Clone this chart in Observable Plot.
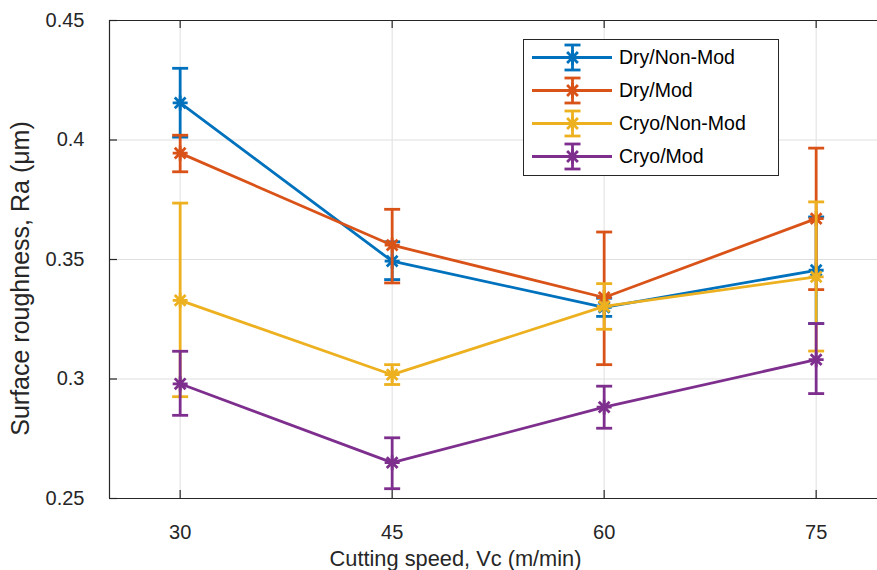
<!DOCTYPE html>
<html><head><meta charset="utf-8">
<script src="https://cdn.jsdelivr.net/npm/d3@7"></script>
<script src="https://cdn.jsdelivr.net/npm/@observablehq/plot@0.6"></script>
<style>
body{margin:0;background:#fff;overflow:hidden;}
#wrap{position:relative;width:877px;height:570px;}
#legend{position:absolute;left:523px;top:39px;width:256px;height:137px;border:1px solid #262626;background:#fff;box-sizing:border-box;font-family:"Liberation Sans",Arial,sans-serif;font-size:19.5px;color:#000;}
#legend .row{position:absolute;left:0;height:33px;display:flex;align-items:center;white-space:nowrap;}
#legend svg{display:block;}
</style></head>
<body><div id="wrap"><div id="chart"></div><div id="legend"></div></div>
<script>
// ---- data ----
const speeds = [30, 45, 60, 75];
const yTicks = [0.25, 0.3, 0.35, 0.4, 0.45];
const seriesNames = ["Dry/Non-Mod", "Dry/Mod", "Cryo/Non-Mod", "Cryo/Mod"];
const seriesColors = ["#0072BD", "#D95319", "#EDB120", "#7E2F8E"];

const dryNonMod     = [0.4155, 0.3493, 0.3300, 0.3455];
const dryNonModLow  = [0.4012, 0.3416, 0.3262, 0.3232];
const dryNonModHigh = [0.4300, 0.3574, 0.3338, 0.3678];

const dryMod     = [0.3945, 0.3560, 0.3341, 0.3671];
const dryModLow  = [0.3867, 0.3402, 0.3060, 0.3374];
const dryModHigh = [0.4020, 0.3710, 0.3615, 0.3966];

const cryoNonMod     = [0.3329, 0.3018, 0.3304, 0.3427];
const cryoNonModLow  = [0.2926, 0.2977, 0.3208, 0.3117];
const cryoNonModHigh = [0.3736, 0.3060, 0.3399, 0.3741];

const cryoMod     = [0.2980, 0.2650, 0.2882, 0.3081];
const cryoModLow  = [0.2848, 0.2541, 0.2794, 0.2939];
const cryoModHigh = [0.3116, 0.2754, 0.2970, 0.3232];

const xLabel = "Cutting speed, Vc (m/min)";
const yLabel = "Surface roughness, Ra (\u03bcm)";

// ---- build ----
const seriesValues = [
  [dryNonMod, dryNonModLow, dryNonModHigh],
  [dryMod, dryModLow, dryModHigh],
  [cryoNonMod, cryoNonModLow, cryoNonModHigh],
  [cryoMod, cryoModLow, cryoModHigh]
];
const series = seriesNames.map((name, k) => ({
  name, color: seriesColors[k],
  rows: speeds.map((s, i) => ({speed: s, value: seriesValues[k][0][i], low: seriesValues[k][1][i], high: seriesValues[k][2][i]}))
}));

const W = 877, H = 570, mL = 109, mR = 0, mT = 20, mB = 72;
const frameW = W - mL - mR, frameH = H - mT - mB;
const font = '"Liberation Sans", Arial, sans-serif';
const grid = "#dfdfdf", axisColor = "#262626";
const lw = 2.8;
const cap = {draw(ctx, size) { const r = Math.sqrt(size / Math.PI); ctx.moveTo(-r, 0); ctx.lineTo(r, 0); }};
// MATLAB-style '*' marker: plus and cross combined
const star = {draw(ctx, size) {
  const r = Math.sqrt(size / Math.PI), d = r * 0.72;
  ctx.moveTo(-r, 0); ctx.lineTo(r, 0);
  ctx.moveTo(0, -r); ctx.lineTo(0, r);
  ctx.moveTo(-d, -d); ctx.lineTo(d, d);
  ctx.moveTo(-d, d); ctx.lineTo(d, -d);
}};

const chart = Plot.plot({
  width: W, height: H,
  marginLeft: mL, marginRight: mR, marginTop: mT, marginBottom: mB,
  style: {fontFamily: font, background: "white", color: "#262626"},
  x: {domain: [25, 25 + frameW / (212 / 15)]},
  y: {domain: [0.25, 0.45]},
  marks: [
    Plot.ruleX(speeds, {stroke: grid, strokeWidth: 1}),
    Plot.ruleY(yTicks, {stroke: grid, strokeWidth: 1}),
    Plot.ruleY([0.25, 0.45], {stroke: axisColor, strokeWidth: 1.2}),
    Plot.ruleX([25], {stroke: axisColor, strokeWidth: 1.2}),
    Plot.tickX(speeds, {x: d => d, insetTop: frameH - 8, stroke: axisColor, strokeWidth: 1.2}),
    Plot.tickX(speeds, {x: d => d, insetBottom: frameH - 8, stroke: axisColor, strokeWidth: 1.2}),
    Plot.tickY(yTicks, {y: d => d, insetRight: frameW - 8, stroke: axisColor, strokeWidth: 1.2}),
    Plot.axisX({ticks: speeds, tickSize: 0, tickPadding: 26, fontSize: 20, label: null, tickFormat: d => String(d), fill: axisColor}),
    Plot.axisY({ticks: yTicks, tickSize: 0, tickPadding: 25, fontSize: 20, label: null, tickFormat: d => String(d), fill: axisColor}),
    Plot.text([xLabel], {frameAnchor: "bottom", textAnchor: "middle", lineAnchor: "middle", dx: 455 - (mL + frameW / 2), dy: 61, fontSize: 21.8, fill: axisColor}),
    Plot.text([yLabel], {frameAnchor: "left", textAnchor: "middle", lineAnchor: "middle", rotate: -90, dx: -89, dy: 19, fontSize: 25, fill: axisColor}),
    ...series.flatMap(s => [
      Plot.ruleX(s.rows, {x: "speed", y1: "low", y2: "high", stroke: s.color, strokeWidth: lw}),
      Plot.dot(s.rows, {x: "speed", y: "low", symbol: cap, r: 8, stroke: s.color, strokeWidth: lw}),
      Plot.dot(s.rows, {x: "speed", y: "high", symbol: cap, r: 8, stroke: s.color, strokeWidth: lw}),
      Plot.line(s.rows, {x: "speed", y: "value", stroke: s.color, strokeWidth: lw}),
      Plot.dot(s.rows, {x: "speed", y: "value", symbol: star, r: 7.5, stroke: s.color, strokeWidth: lw})
    ])
  ]
});
document.getElementById("chart").appendChild(chart);

// ---- legend ----
const legend = document.getElementById("legend");
const starPath = d3.symbol(star, Math.PI * 7.5 * 7.5)();
series.forEach((s, i) => {
  const row = document.createElement("div");
  row.className = "row";
  row.style.top = (1 + i * 33.1) + "px";
  row.innerHTML =
    `<svg width="95" height="33"><g stroke="${s.color}" stroke-width="${lw}" fill="none">` +
    `<line x1="8" x2="88" y1="16.5" y2="16.5"/>` +
    `<line x1="48.5" x2="48.5" y1="4" y2="29"/>` +
    `<line x1="40.5" x2="56.5" y1="4" y2="4"/>` +
    `<line x1="40.5" x2="56.5" y1="29" y2="29"/>` +
    `<path transform="translate(48.5,16.5)" d="${starPath}"/></g></svg>` +
    `<span>${s.name}</span>`;
  legend.appendChild(row);
});
</script>
</body></html>
